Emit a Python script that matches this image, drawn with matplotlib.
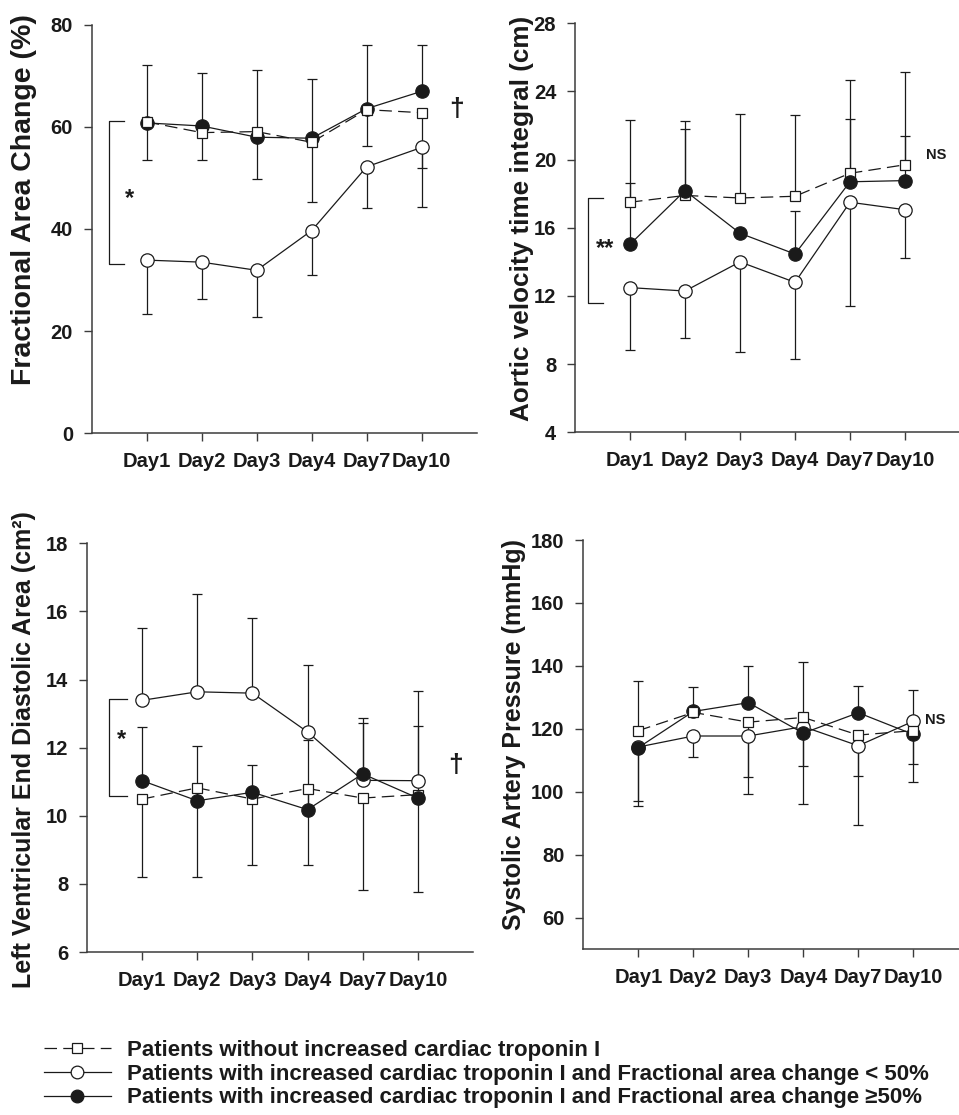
import numpy as np
import matplotlib
matplotlib.use("Agg")
import matplotlib.pyplot as plt
from matplotlib.lines import Line2D

plt.rcParams['font.family'] = ['Liberation Sans', 'DejaVu Sans']
plt.rcParams['font.weight'] = 'bold'

days = ["Day1", "Day2", "Day3", "Day4", "Day7", "Day10"]
N = None

# ---- Panel A: Fractional Area Change (%)
fac_no_mean = [61.0, 58.9, 59.1, 57.0, 63.4, 62.8]
fac_no_up = [N, N, N, N, N, N]
fac_no_down = [7.5, 5.4, 9.3, 11.7, 7.1, 10.8]
fac_low_mean = [33.9, 33.5, 31.9, 39.7, 52.2, 56.0]
fac_low_up = [N, N, N, N, N, N]
fac_low_down = [10.6, 7.2, 9.2, 8.7, 8.0, 11.6]
fac_high_mean = [60.8, 60.2, 58.0, 57.8, 63.6, 67.0]
fac_high_up = [11.3, 10.3, 13.2, 11.6, 12.4, 9.0]
fac_high_down = [N, N, N, N, N, N]

# ---- Panel B: Aortic velocity time integral (cm)
vti_no_mean = [17.5, 17.9, 17.75, 17.85, 19.2, 19.7]
vti_no_up = [1.15, 3.9, 4.9, 4.75, 3.2, 1.7]
vti_no_down = [N, N, N, N, N, N]
vti_low_mean = [12.49, 12.29, 14.0, 12.8, 17.5, 17.06]
vti_low_up = [N, N, N, N, N, N]
vti_low_down = [3.66, 2.74, 5.27, 4.52, 6.09, 2.85]
vti_high_mean = [15.03, 18.18, 15.68, 14.46, 18.7, 18.77]
vti_high_up = [7.3, 4.07, N, 2.51, 5.96, 6.36]
vti_high_down = [N, N, N, N, N, N]

# ---- Panel C: LV end diastolic area (cm2)
lv_no_mean = [10.49, 10.82, 10.49, 10.8, 10.52, 10.62]
lv_no_up = [N, N, N, N, N, N]
lv_no_down = [2.28, 2.62, 1.94, 2.26, 2.7, 2.87]
lv_low_mean = [13.39, 13.64, 13.6, 12.46, 11.04, 11.03]
lv_low_up = [2.13, 2.87, 2.21, 1.97, 1.84, 2.62]
lv_low_down = [N, N, N, N, N, N]
lv_high_mean = [11.03, 10.44, 10.69, 10.18, 11.23, 10.52]
lv_high_up = [1.59, 1.61, 0.81, 2.05, 1.49, 2.11]
lv_high_down = [N, N, N, N, N, N]

# ---- Panel D: Systolic artery pressure (mmHg)
sap_no_mean = [119.4, 125.2, 122.1, 123.6, 118.0, 119.4]
sap_no_up = [15.7, N, N, 17.7, N, N]
sap_no_down = [N, N, 17.4, N, 12.9, 10.5]
sap_low_mean = [114.2, 117.7, 117.7, 120.7, 114.6, 122.4]
sap_low_up = [N, N, N, N, N, 10.0]
sap_low_down = [17.1, 6.7, 18.4, 12.5, 25.1, N]
sap_high_mean = [114.0, 125.5, 128.3, 118.6, 125.1, 118.2]
sap_high_up = [N, 7.9, 11.7, N, 8.6, N]
sap_high_down = [18.6, N, N, 22.5, N, 15.1]

legend_labels = [
    "Patients without increased cardiac troponin I",
    "Patients with increased cardiac troponin I and Fractional area change < 50%",
    "Patients with increased cardiac troponin I and Fractional area change \u226550%",
]

W, H = 959, 1115
fig = plt.figure(figsize=(W / 100, H / 100), dpi=100)
INK = '#1a1a1a'
SPINE = '#3c3c3c'


def px_axes(left, top, bottom, width):
    return fig.add_axes([left / W, 1 - bottom / H, width / W, (bottom - top) / H])


styles = {
    'no': dict(ls=(0, (10, 5)), marker='s', ms=7.4, mfc='white'),
    'low': dict(ls='-', marker='o', ms=9.6, mfc='white'),
    'high': dict(ls='-', marker='o', ms=9.6, mfc=INK),
}


def draw_bars(ax, mean, err, sign):
    xs, y0, y1 = [], [], []
    for i, (m, e) in enumerate(zip(mean, err)):
        if e is None:
            continue
        xs.append(i + 1)
        y0.append(m)
        y1.append(m + sign * e)
    if not xs:
        return
    ax.vlines(xs, y0, y1, colors=INK, linewidth=0.9, zorder=2)
    ax.plot(xs, y1, linestyle='none', marker='_', ms=7.4, mew=0.9, color=INK, zorder=2)


def draw_panel(ax, series, order, ylim, yticks):
    x = np.arange(1, 7)
    for key in ['no', 'low', 'high']:
        mean, up, down = series[key]
        draw_bars(ax, mean, up, +1)
        draw_bars(ax, mean, down, -1)
    for z, key in enumerate(order):
        mean, up, down = series[key]
        st = styles[key]
        ax.plot(x, mean, linestyle=st['ls'], color=INK, lw=0.9, marker=st['marker'],
                ms=st['ms'], mfc=st['mfc'], mec=INK, mew=0.9, zorder=3 + z)
    ax.set_xlim(0, 7)
    ax.set_ylim(*ylim)
    ax.set_xticks(x)
    ax.set_xticklabels(days)
    ax.set_yticks(yticks)
    ax.set_yticklabels([str(t) for t in yticks])
    for s in ['top', 'right']:
        ax.spines[s].set_visible(False)
    for s in ['left', 'bottom']:
        ax.spines[s].set_color(SPINE)
        ax.spines[s].set_linewidth(1.1)
    ax.tick_params(axis='both', direction='out', length=5.5, width=1.0, color=SPINE,
                   labelsize=14.5, labelcolor=INK)
    ax.tick_params(axis='x', pad=8)
    ax.tick_params(axis='y', pad=8)
    for lab in ax.get_xticklabels() + ax.get_yticklabels():
        lab.set_fontweight('bold')


def bracket(ax, x0, x1, y0, y1):
    ax.plot([x1, x0, x0, x1], [y0, y0, y1, y1], color=INK, lw=0.9, clip_on=False)


# Panel A
axA = px_axes(91.7, 25, 433, 385)
draw_panel(axA, {'no': (fac_no_mean, fac_no_up, fac_no_down),
                 'low': (fac_low_mean, fac_low_up, fac_low_down),
                 'high': (fac_high_mean, fac_high_up, fac_high_down)},
           ['low', 'high', 'no'], (0, 80), [0, 20, 40, 60, 80])
bracket(axA, 0.32, 0.59, 61.2, 33.1)
axA.text(0.68, 46.0, "*", fontsize=17, fontweight='bold', ha='center', va='center', color=INK)
axA.text(6.64, 63.6, "\u2020", fontsize=19, fontweight='bold', ha='center', va='center', color=INK)

# Panel B
axB = px_axes(575, 23.3, 432.3, 385)
draw_panel(axB, {'no': (vti_no_mean, vti_no_up, vti_no_down),
                 'low': (vti_low_mean, vti_low_up, vti_low_down),
                 'high': (vti_high_mean, vti_high_up, vti_high_down)},
           ['low', 'no', 'high'], (4, 28), [4, 8, 12, 16, 20, 24, 28])
bracket(axB, 0.23, 0.50, 17.73, 11.57)
axB.text(0.55, 14.8, "**", fontsize=17, fontweight='bold', ha='center', va='center', color=INK)
axB.text(6.56, 20.3, "NS", fontsize=10.5, fontweight='bold', ha='center', va='center', color=INK)

# Panel C
axC = px_axes(87, 543.3, 952, 386)
draw_panel(axC, {'no': (lv_no_mean, lv_no_up, lv_no_down),
                 'low': (lv_low_mean, lv_low_up, lv_low_down),
                 'high': (lv_high_mean, lv_high_up, lv_high_down)},
           ['no', 'low', 'high'], (6, 18), [6, 8, 10, 12, 14, 16, 18])
bracket(axC, 0.40, 0.72, 13.44, 10.59)
axC.text(0.63, 12.25, "*", fontsize=17, fontweight='bold', ha='center', va='center', color=INK)
axC.text(6.69, 11.5, "\u2020", fontsize=19, fontweight='bold', ha='center', va='center', color=INK)

# Panel D
axD = px_axes(583.3, 540, 949, 385)
draw_panel(axD, {'no': (sap_no_mean, sap_no_up, sap_no_down),
                 'low': (sap_low_mean, sap_low_up, sap_low_down),
                 'high': (sap_high_mean, sap_high_up, sap_high_down)},
           ['low', 'high', 'no'], (50, 180), [60, 80, 100, 120, 140, 160, 180])
axD.text(6.39, 122.8, "NS", fontsize=10.5, fontweight='bold', ha='center', va='center', color=INK)

# y-axis labels
ylab_kw = dict(rotation=90, ha='center', va='center', fontweight='bold', color=INK)
fig.text(24 / W, 1 - 200 / H, "Fractional Area Change (%)", fontsize=20.5, **ylab_kw)
fig.text(522 / W, 1 - 218 / H, "Aortic velocity time integral (cm)", fontsize=18.8, **ylab_kw)
fig.text(24 / W, 1 - 750 / H, "Left Ventricular End Diastolic Area (cm\u00b2)", fontsize=18, **ylab_kw)
fig.text(514 / W, 1 - 735 / H, "Systolic Artery Pressure (mmHg)", fontsize=18, **ylab_kw)

# legend
handles = [Line2D([], [], color=INK, lw=0.9, linestyle=styles[k]['ls'], marker=styles[k]['marker'],
                  ms=styles[k]['ms'] * 0.95, mfc=styles[k]['mfc'], mec=INK, mew=0.9)
           for k in ['no', 'low', 'high']]
fig.legend(handles, legend_labels, loc='upper left', bbox_to_anchor=(44 / W, 1 - 1040 / H),
           frameon=False, borderpad=0, borderaxespad=0, handlelength=3.0, handletextpad=0.75,
           labelspacing=0.12, prop={'weight': 'bold', 'size': 16}, labelcolor=INK)

fig.savefig("out.png", dpi=100)
